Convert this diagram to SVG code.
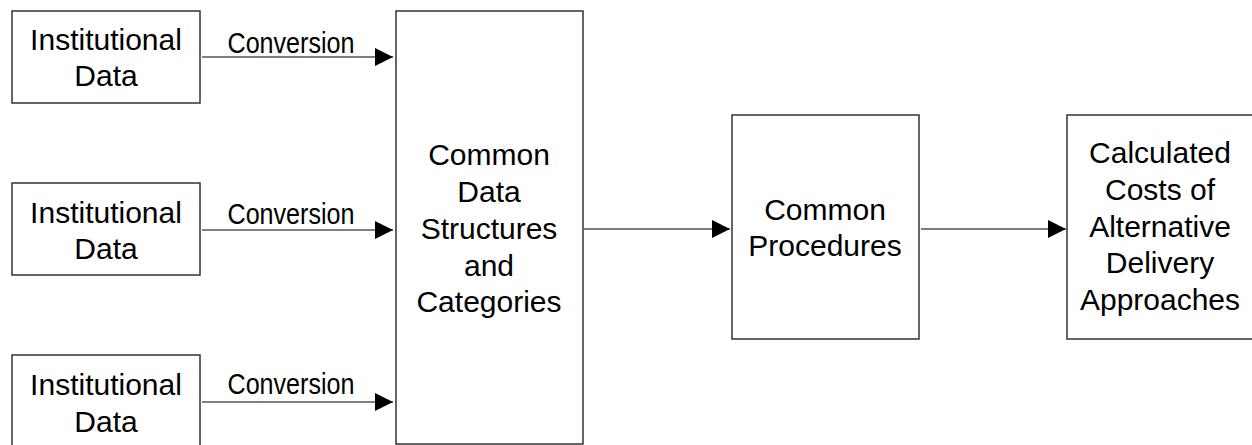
<svg xmlns="http://www.w3.org/2000/svg" width="1252" height="445" viewBox="0 0 1252 445">
  <style>
    .box { fill: #ffffff; stroke: #333333; stroke-width: 1.5; }
    .lbl { font-family: "Liberation Sans", Arial, sans-serif; font-size: 30px; fill: #000000; text-anchor: middle; }
    .conv { font-family: "Liberation Sans", Arial, sans-serif; font-size: 29px; fill: #000000; text-anchor: middle; }
    .edge { stroke: #000000; stroke-width: 1.2; fill: none; marker-end: url(#arrow); }
  </style>
  <defs>
    <marker id="arrow" markerUnits="userSpaceOnUse" markerWidth="18" markerHeight="18" refX="18" refY="9" orient="auto">
      <path d="M0,0 L18,9 L0,18 Z" fill="#000000"/>
    </marker>
  </defs>
  <rect width="1252" height="445" fill="#ffffff"/>

  <g id="source-1">
    <rect class="box" x="12" y="11" width="188" height="92"/>
    <text class="lbl" x="106" y="50">Institutional</text>
    <text class="lbl" x="106" y="86">Data</text>
  </g>
  <g id="source-2">
    <rect class="box" x="12" y="183" width="188" height="92"/>
    <text class="lbl" x="106" y="223">Institutional</text>
    <text class="lbl" x="106" y="259">Data</text>
  </g>
  <g id="source-3">
    <rect class="box" x="12" y="355" width="188" height="100"/>
    <text class="lbl" x="106" y="395">Institutional</text>
    <text class="lbl" x="106" y="432">Data</text>
  </g>
  <g id="common-data">
    <rect class="box" x="396" y="11" width="187" height="433"/>
    <text class="lbl" x="489" y="165">Common</text>
    <text class="lbl" x="489" y="202">Data</text>
    <text class="lbl" x="489" y="239">Structures</text>
    <text class="lbl" x="489" y="276">and</text>
    <text class="lbl" x="489" y="312">Categories</text>
  </g>
  <g id="common-procedures">
    <rect class="box" x="732" y="115" width="187" height="224"/>
    <text class="lbl" x="825" y="220">Common</text>
    <text class="lbl" x="825" y="256">Procedures</text>
  </g>
  <g id="calculated-costs">
    <rect class="box" x="1067" y="115" width="190" height="224"/>
    <text class="lbl" x="1160" y="163">Calculated</text>
    <text class="lbl" x="1160" y="200">Costs of</text>
    <text class="lbl" x="1160" y="237">Alternative</text>
    <text class="lbl" x="1160" y="273">Delivery</text>
    <text class="lbl" x="1160" y="310">Approaches</text>
  </g>

  <g id="connectors">
    <line class="edge" x1="202" y1="57" x2="393" y2="57"/>
    <line class="edge" x1="202" y1="230" x2="393" y2="230"/>
    <line class="edge" x1="202" y1="402" x2="393" y2="402"/>
    <line class="edge" x1="584" y1="229" x2="730" y2="229"/>
    <line class="edge" x1="921" y1="229" x2="1066" y2="229"/>
    <text class="conv" x="291" y="53" textLength="127" lengthAdjust="spacingAndGlyphs">Conversion</text>
    <text class="conv" x="291" y="224" textLength="127" lengthAdjust="spacingAndGlyphs">Conversion</text>
    <text class="conv" x="291" y="394" textLength="127" lengthAdjust="spacingAndGlyphs">Conversion</text>
  </g>
</svg>
